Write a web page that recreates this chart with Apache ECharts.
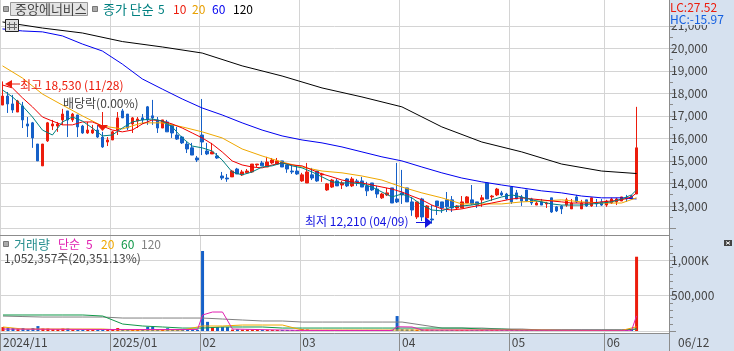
<!DOCTYPE html>
<html>
<head>
<meta charset="utf-8">
<style>
  html, body { margin: 0; padding: 0; background: #d6e1ef; }
  #chart { width: 734px; height: 351px; }
</style>
<script src="https://cdn.jsdelivr.net/npm/echarts@6/dist/echarts.min.js"></script>
</head>
<body>
<div id="chart"></div>
<script>
const slots = 134
const tickIdx = [0, 22, 40, 60, 80, 102, 121]
const tickLabels = ['2024/11', '2025/01', '02', '03', '04', '05', '06']

const opens = [17480,17880,17530,17170,17440,16640,16690,15750,14780,15890,16550,16550,16820,17220,16820,17040,16550,16240,16240,16370,16060,15840,15930,16370,17220,17080,16640,16770,16910,17400,17000,16820,
  16460,16730,16600,16150,16060,15750,15580,15130,16150,15440,15310,15220,14330,14240,14290,14640,14380,14470,14510,14820,14910,14730,14910,14860,15000,14820,14550,14550,14110,14020,14380,14550,
  14380,13710,13840,14110,13930,14200,13890,14110,14110,13890,14020,13750,13360,13490,13800,13310,13580,13800,13180,12510,13310,12470,12420,13220,13180,13270,13270,12910,12910,13130,13270,13180,
  13270,14020,13400,13490,13580,13530,13840,13580,13400,13710,13310,13040,13180,13090,13360,12960,13000,13040,12870,13400,12870,13270,13000,13130,13180,13040,13130,13180,13220,13360,13440,13530]
const closes = [17880,17530,17260,17660,16820,16550,16020,15000,15750,16690,16640,16640,17080,16820,17080,16510,16240,16370,16370,16060,15620,15930,16290,16910,16910,16460,16910,16860,16820,16820,16910,16460,
  16820,16290,16240,15970,15800,15530,15260,15040,15840,15310,15400,15130,14240,14200,14550,14420,14510,14550,14860,14860,14780,14950,15040,15000,14730,14640,14510,14420,14380,14510,14240,14110,
  14420,13980,14150,13890,14020,13890,14200,14070,13840,13670,13710,13530,13530,13580,13130,13180,13490,13180,12820,13180,12510,13000,12380,13000,12910,12960,12910,13000,13180,13400,13090,13040,
  13360,13310,13440,13750,13490,13310,13180,13310,13220,13220,13130,13130,13040,13130,12730,12780,12870,13270,13130,13180,13130,13000,13360,13090,13040,13220,13310,13310,13400,13310,13310,15580]
const lows = [17480,17130,17130,17170,16460,16060,15580,15000,14780,15840,16370,16290,16600,16060,16730,16060,16200,16200,16200,16020,15580,15660,15930,16150,16910,16370,16240,16460,16640,16600,16600,16240,
  16460,16290,16020,15930,15750,15350,15260,14950,15260,15260,15310,15090,14150,14070,14290,14420,14330,14420,14470,14730,14780,14730,14860,14820,14730,14470,14420,14380,14070,14020,14150,14070,
  14070,13670,13800,13890,13750,13840,13840,13890,13840,13440,13670,13360,13310,13440,13130,13130,13090,13180,12560,12420,12330,12290,12210,12600,12690,12730,12730,12820,12910,13130,13040,12910,
  12960,13310,13220,13440,13440,13270,13090,13310,13000,13180,13040,13040,13040,12910,12690,12730,12640,12960,12870,13130,12870,12960,12960,12960,13000,12960,13090,13040,13220,13180,13270,13530]
const highs = [18530,18060,17930,17710,17620,16950,16730,15750,15750,16730,16820,16730,17310,17220,17130,17040,16600,16730,16600,16600,16290,16060,16330,17170,17310,17080,16950,16950,17080,17440,17710,16950,
  16820,16820,16600,16510,16110,15840,15800,15220,17750,15800,15800,15350,14510,14420,14600,14690,14600,14640,14860,14860,15000,15180,15130,15130,15000,14820,14820,14780,14470,14910,14690,14550,
  14470,14020,14200,14200,14110,14240,14290,14200,14290,14070,14020,13890,13580,13800,13800,14910,14600,13800,13400,13180,13360,13040,13040,13220,13180,13620,13440,13040,13440,13440,13930,13180,
  13490,14020,13490,13800,13670,13580,13840,13710,13490,13710,13360,13220,13310,13180,13360,13000,13040,13360,13310,13490,13270,13270,13360,13310,13310,13270,13360,13360,13400,13490,13490,17400]

const volumes = [56000,42000,42000,25000,42000,25000,42000,70000,35000,35000,25000,25000,35000,35000,15000,15000,15000,15000,15000,15000,20000,15000,18000,42000,20000,18000,15000,22000,15000,60000,60000,18000,
  20000,40000,25000,18000,15000,18000,18000,18000,1133000,130000,56000,56000,56000,56000,20000,25000,18000,18000,15000,15000,15000,15000,15000,15000,15000,15000,15000,15000,25000,22000,15000,15000,
  15000,15000,15000,15000,15000,15000,15000,15000,15000,15000,15000,15000,15000,15000,18000,212000,25000,22000,22000,18000,22000,20000,18000,15000,15000,15000,15000,15000,15000,15000,15000,15000,
  15000,15000,15000,15000,15000,15000,15000,15000,15000,15000,15000,15000,15000,15000,15000,15000,15000,15000,15000,15000,15000,15000,15000,15000,15000,15000,15000,15000,15000,15000,15000,1052357]

// MA readings at every second candle
const ma5 = [18150,17840,17440,16950,16370,16150,16730,16950,16770,16460,16110,16150,16460,16730,16820,16860,16770,16510,16020,15660,15580,15440,15040,14510,14380,14510,14730,14780,14910,14780,14690,14510,
  14290,14070,14020,14020,13980,13840,13620,13400,13530,13360,13040,12820,12780,12960,13000,13040,13130,13270,13400,13490,13400,13270,13180,13090,13040,13040,13040,13090,13130,13180,13310,13490,13710]
const ma10 = [18370,18240,17800,17400,16950,16770,16600,16600,16730,16730,16550,16370,16290,16370,16640,16820,16770,16640,16460,16240,16020,15750,15400,15000,14820,14730,14690,14820,14910,14820,14780,14600,
  14420,14290,14150,14070,14020,13930,13840,13750,13620,13440,13270,13040,12870,12820,12870,12960,13040,13130,13220,13310,13360,13310,13270,13220,13180,13130,13130,13130,13180,13220,13270,13400,13580]
// every fourth candle
const ma20 = [19220,18680,17970,17480,17000,16550,16420,16690,16690,16510,16290,16020,15530,15220,14950,14730,14550,14470,14330,14150,13840,13580,13360,13090,13090,13090,13180,13220,13270,13180,13130,13130,13360]
const ma60 = [20860,20770,20730,20550,20190,19880,19300,18640,18190,17750,17350,17040,16690,16370,16110,15930,15800,15620,15400,15180,15000,14730,14470,14240,14070,13930,13800,13670,13580,13440,13360,13360,13310]
// every eighth candle
const ma120 = [21170,20900,20680,20300,20060,19790,19220,18770,18240,17840,17400,16510,15840,15400,14860,14550,14440]

const volMa5Idx = [0,20,39,40,42,44,46,60,78,79,82,84,126,127]
const volMa5 = [28000,22000,22000,227000,269000,269000,28000,8000,8000,60000,57000,14000,10000,215000]
const volMa20 = [57000,28000,28000,28000,28000,28000,14000,14000,14000,14000,71000,71000,85000,85000,85000,14000,14000,14000,14000,14000,14000,14000,14000,14000,14000,14000,14000,14000,10000,8000,8000,8000,60000]
const volMa60 = [227000,227000,227000,227000,227000,212000,99000,71000,57000,42000,42000,57000,57000,57000,42000,42000,42000,42000,42000,42000,42000,42000,42000,42000,28000,28000,14000,14000,14000,14000,14000,14000,30000]
const volMa120 = [212000,205000,198000,198000,198000,198000,184000,184000,184000,184000,184000,170000,156000,142000,142000,127000,127000,127000,127000,127000,127000,85000,42000,42000,42000,28000,28000,14000,14000,14000,14000,14000,25000]

const priceLabels = [13000,14000,15000,16000,17000,18000,19000,20000,21000]
const priceLines = [12000, ...priceLabels]
const priceMinor = [12500,13500,14500,15500,16500,17500,18500,19500,20500,21500]
const volLabels = [500000,1000000]
const volMinor = [100000,200000,300000,400000,600000,700000,800000,900000,1100000,1200000,1300000]

const RED = '#ec1c0c'
const BLUE = '#1560c8'
const GRID = '#d4d4d4'
const AXIS = '#8c8c8c'
const TXT = '#444'
const FONT = "'Noto Sans CJK KR'"

const cats = Array.from({ length: slots }, (_, i) => {
  const k = tickIdx.indexOf(i)
  return k >= 0 ? tickLabels[k] : ''
})
const isTick = (i) => tickIdx.includes(i)

// sampled readings -> [index, value], last one is always the last candle
function sampled(vals, step) {
  return vals.map((v, k) => [k === vals.length - 1 ? opens.length - 1 : k * step, v])
}

function line(name, data, color, xi, yi) {
  return {
    name, type: 'line', data, xAxisIndex: xi, yAxisIndex: yi,
    symbol: 'none', silent: true,
    lineStyle: { color, width: 1 },
  }
}

function txt(x, y, text, fill, size) {
  return {
    type: 'text', z: 50, silent: true,
    style: { x, y, text, fill, font: `${size || 12}px ${FONT}`, verticalAlign: 'middle' },
  }
}
function box(x, y, width, height, fill, stroke) {
  return { type: 'rect', z: 49, silent: true, shape: { x, y, width, height }, style: { fill, stroke: stroke || null, lineWidth: 1 } }
}
function seg(x1, y1, x2, y2, stroke) {
  return { type: 'line', z: 50, silent: true, shape: { x1, y1, x2, y2 }, style: { stroke, lineWidth: 1 } }
}
function tri(points, fill) {
  return { type: 'polygon', z: 50, silent: true, shape: { points }, style: { fill } }
}

const valueAxisBase = {
  position: 'right', scale: false,
  axisLine: { show: true, lineStyle: { color: AXIS } },
}

const chart = echarts.init(document.getElementById('chart'))
chart.setOption({
  animation: false,
  backgroundColor: '#d6e1ef',
  grid: [
    { left: 0, top: 0, width: 669, height: 235, show: true, backgroundColor: '#fff', borderWidth: 0 },
    { left: 0, top: 235, width: 669, height: 98, show: true, backgroundColor: '#fff', borderWidth: 0 },
  ],
  xAxis: [
    {
      type: 'category', gridIndex: 0, data: cats,
      axisLine: { show: true, lineStyle: { color: AXIS } },
      axisTick: { show: false }, axisLabel: { show: false },
      splitLine: { show: true, interval: isTick, lineStyle: { color: GRID } },
    },
    {
      type: 'category', gridIndex: 1, data: cats,
      axisLine: { show: true, onZero: false, lineStyle: { color: AXIS } },
      axisTick: { show: true, interval: isTick, length: 18, lineStyle: { color: AXIS } },
      axisLabel: { show: true, interval: isTick, align: 'left', margin: 3, color: TXT, fontSize: 12, fontFamily: FONT },
      splitLine: { show: true, interval: isTick, lineStyle: { color: GRID } },
    },
  ],
  yAxis: [
    {
      ...valueAxisBase, type: 'value', gridIndex: 0, min: 11710, max: 22145,
      axisTick: { show: true, length: 7, customValues: priceLines, lineStyle: { color: AXIS } },
      axisLabel: { show: true, customValues: priceLabels, margin: 2, color: TXT, fontSize: 12, fontFamily: FONT,
        formatter: (v) => v.toLocaleString('en-US') },
      splitLine: { show: true, lineStyle: { color: GRID } },
    },
    {
      ...valueAxisBase, type: 'value', gridIndex: 0, min: 11710, max: 22145,
      axisTick: { show: true, length: 4, customValues: priceMinor, lineStyle: { color: AXIS } },
      axisLabel: { show: false }, splitLine: { show: false },
    },
    {
      ...valueAxisBase, type: 'value', gridIndex: 1, min: -28000, max: 1360000,
      axisTick: { show: true, length: 7, customValues: [0, ...volLabels], lineStyle: { color: AXIS } },
      axisLabel: { show: true, customValues: volLabels, margin: 2, color: TXT, fontSize: 12, fontFamily: FONT,
        formatter: (v) => (v === 1000000 ? '1,000K' : v.toLocaleString('en-US')) },
      splitLine: { show: true, lineStyle: { color: GRID } },
    },
    {
      ...valueAxisBase, type: 'value', gridIndex: 1, min: -28000, max: 1360000,
      axisTick: { show: true, length: 4, customValues: volMinor, lineStyle: { color: AXIS } },
      axisLabel: { show: false }, splitLine: { show: false },
    },
  ],
  series: [
    {
      name: '종가', type: 'candlestick', xAxisIndex: 0, yAxisIndex: 0, barWidth: 3,
      data: opens.map((o, i) => [o, closes[i], lows[i], highs[i]]),
      itemStyle: { color: RED, color0: BLUE, borderColor: RED, borderColor0: BLUE, borderWidth: 1 },
    },
    line('120', sampled(ma120, 8), '#000', 0, 0),
    line('60', sampled(ma60, 4), '#0000f0', 0, 0),
    line('20', sampled(ma20, 4), '#f0a800', 0, 0),
    line('10', sampled(ma10, 2), '#f00000', 0, 0),
    line('5', sampled(ma5, 2), '#008080', 0, 0),
    {
      name: '거래량', type: 'bar', xAxisIndex: 1, yAxisIndex: 2, barWidth: 3,
      data: volumes.map((v, i) => ({ value: v, itemStyle: { color: closes[i] >= opens[i] ? RED : BLUE } })),
    },
    line('v120', sampled(volMa120, 4), '#808080', 1, 2),
    line('v60', sampled(volMa60, 4), '#109848', 1, 2),
    line('v20', sampled(volMa20, 4), '#f0a800', 1, 2),
    line('v5', volMa5Idx.map((x, k) => [x, volMa5[k]]), '#e020b0', 1, 2),
  ],
  graphic: [
    // header
    box(3.5, 6.5, 5, 5, '#aaa', '#777'),
    box(10.5, 2.5, 77, 13, '#e4e4e4', '#999'),
    txt(15, 9.5, '중앙에너비스', '#444', 13),
    box(92.5, 6.5, 5, 5, '#aaa', '#777'),
    txt(103, 9.5, '종가 단순', '#008080', 13),
    txt(158, 9.5, '5', '#008080'),
    txt(173, 9.5, '10', RED),
    txt(192, 9.5, '20', '#e8a000'),
    txt(212, 9.5, '60', '#0000f0'),
    txt(233, 9.5, '120', '#000'),
    // table icon
    box(5.5, 19.5, 13, 12, '#ddd', '#222'),
    seg(9.5, 22, 9.5, 30, '#666'), seg(14.5, 22, 14.5, 30, '#666'),
    seg(7, 24.5, 17, 24.5, '#666'), seg(7, 27.5, 17, 27.5, '#666'),
    // LC / HC sit on top of the axis
    box(670, 0, 64, 25, '#d6e1ef'),
    txt(670, 7, 'LC:27.52', RED),
    txt(670, 19, 'HC:-15.97', '#1560e0'),
    // annotations
    txt(20, 85, '최고 18,530 (11/28)', RED),
    tri([[5, 84], [12, 80], [12, 88]], RED), seg(12, 84, 20, 84, RED),
    txt(63, 103, '배당락(0.00%)', '#444'),
    seg(102.5, 112, 102.5, 126, RED), tri([[97, 125], [108, 125], [102.5, 131]], RED),
    txt(305, 221, '최저 12,210 (04/09)', '#1414e0'),
    seg(416, 222.5, 425, 222.5, '#1414e0'), tri([[425, 217], [425, 228], [432, 222.5]], '#1414e0'),
    // volume header
    box(3.5, 241.5, 5, 5, '#aaa', '#777'),
    txt(14, 244, '거래량', '#2a9090', 13),
    txt(58, 244, '단순', '#e020b0'),
    txt(86, 244, '5', '#e020b0'),
    txt(101, 244, '20', '#f0a800'),
    txt(121, 244, '60', '#109848'),
    txt(141, 244, '120', '#808080'),
    txt(4, 258, '1,052,357주(20,351.13%)', '#444'),
    box(724, 240, 8, 6, '#444'),
    seg(726, 241.5, 730, 244.5, '#fff'), seg(730, 241.5, 726, 244.5, '#fff'),
    // last date in the bottom band
    txt(678, 342, '06/12', TXT),
  ],
})
</script>
</body>
</html>
